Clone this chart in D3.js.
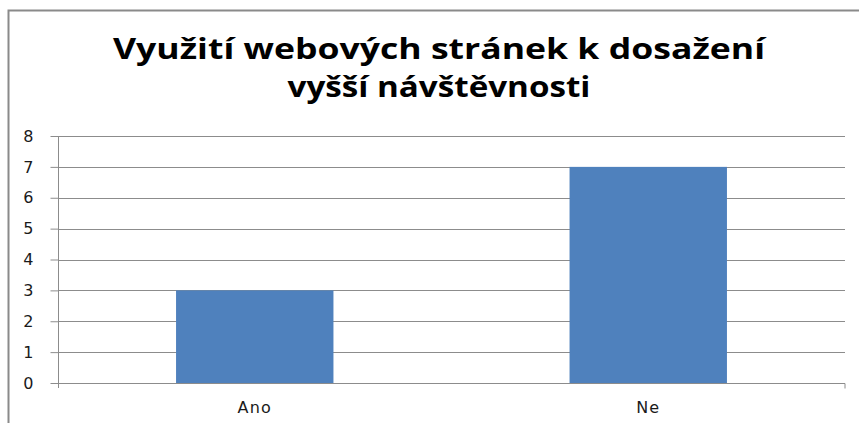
<!DOCTYPE html>
<html><head><meta charset="utf-8">
<script src="https://cdn.jsdelivr.net/npm/d3@7"></script>
<style>html,body{margin:0;padding:0;background:#fff;}svg{display:block;}</style>
</head><body>
<script>
const titleLines = ["Využití webových stránek k dosažení", "vyšší návštěvnosti"];
const categories = ["Ano", "Ne"];
const values = [3, 7];
const yTicks = [0, 1, 2, 3, 4, 5, 6, 7, 8];

const W = 859, H = 423;
const svg = d3.select("body").append("svg").attr("width", W).attr("height", H);

// outer chart border (clipped at right/bottom)
svg.append("path").attr("d", `M8.5,${H+2}V10.5H${W+2}`)
  .attr("fill", "none").attr("stroke", "#8a8a8a").attr("stroke-width", 2);

const m = {left: 58, right: 845, top: 136, bottom: 383};
const x = d3.scaleBand().domain(categories).range([m.left, m.right]).paddingInner(0.6).paddingOuter(0.3);
const y = d3.scaleLinear().domain([0, 8]).range([m.bottom, m.top]);

// gridlines
svg.append("g").selectAll("line").data(yTicks.filter(d => d > 0)).join("line")
  .attr("x1", m.left).attr("x2", m.right)
  .attr("y1", d => Math.round(y(d)) + 0.5).attr("y2", d => Math.round(y(d)) + 0.5)
  .attr("stroke", "#8c8c8c").attr("stroke-width", 1);

// bars
svg.append("g").selectAll("rect").data(values).join("rect")
  .attr("x", (d, i) => x(categories[i]))
  .attr("width", x.bandwidth())
  .attr("y", d => y(d))
  .attr("height", d => y(0) - y(d))
  .attr("fill", "#4f81bd");

const labelStyle = sel => sel
  .style("font-family", "'DejaVu Sans', Verdana, sans-serif")
  .style("font-size", "16px")
  .style("letter-spacing", "1.2px")
  .attr("fill", "#1a1a1a");

// y axis
const yAxis = svg.append("g").attr("transform", `translate(${m.left + 0.5},0)`)
  .call(d3.axisLeft(y).tickValues(yTicks).tickSize(8).tickPadding(17).tickFormat(d3.format("d")));
yAxis.select(".domain").attr("d", `M0,${m.top}V${m.bottom + 5}`).attr("stroke", "#8c8c8c");
yAxis.selectAll(".tick line").attr("stroke", "#8c8c8c");
yAxis.selectAll("text").call(labelStyle).style("letter-spacing", "0px");

// x axis
const xAxis = svg.append("g").attr("transform", `translate(0,${Math.round(y(0)) + 0.5})`)
  .call(d3.axisBottom(x).tickSize(0).tickPadding(18));
xAxis.select(".domain").attr("d", `M${m.left},0H${m.right}V5`).attr("stroke", "#8c8c8c");
xAxis.selectAll("text").call(labelStyle);

// title
const titleWidths = [652, 303];
const tg = svg.append("g");
titleLines.forEach((t, i) => {
  tg.append("text").text(t)
    .attr("x", 439).attr("y", 59 + i * 38)
    .attr("text-anchor", "middle")
    .style("font-family", "'Open Sans', 'Noto Sans', sans-serif")
    .style("font-weight", "bold").style("font-size", "29px")
    .attr("textLength", titleWidths[i]).attr("lengthAdjust", "spacingAndGlyphs")
    .attr("fill", "#000");
});
</script>
</body></html>
